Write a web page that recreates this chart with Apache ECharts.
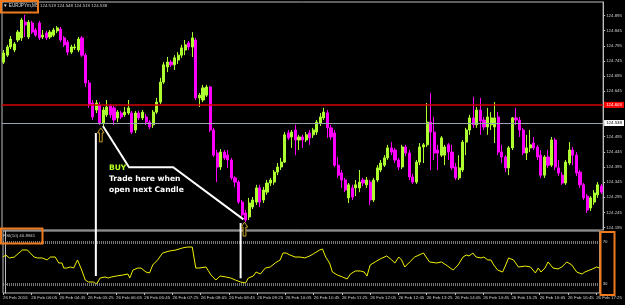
<!DOCTYPE html>
<html><head><meta charset="utf-8">
<script src="https://cdn.jsdelivr.net/npm/echarts@6/dist/echarts.min.js"></script>
<style>html,body{margin:0;padding:0;background:#000}#c{width:625px;height:305px}</style>
</head><body><div id="c"></div>
<script>
const symbolTitle = '\u25BC EURJPYm,M5';
const headerOHLC = '124.519 124.548 124.519 124.538';
const rsiTitle = 'RSI(10) 40.8941';
const startMinutes = 3 * 60 + 25;
const barMinutes = 5;
const timeLabels = ['26 Feb 2016','26 Feb 04:05','26 Feb 04:45','26 Feb 05:25','26 Feb 06:05','26 Feb 06:45','26 Feb 07:25','26 Feb 08:05','26 Feb 08:45','26 Feb 09:25','26 Feb 10:05','26 Feb 10:45','26 Feb 11:25','26 Feb 12:05','26 Feb 12:45','26 Feb 13:25','26 Feb 14:05','26 Feb 14:45','26 Feb 15:25','26 Feb 16:05','26 Feb 16:45','26 Feb 17:25'];
const barsPerTimeLabel = 8;
const priceTicks = [124.895,124.845,124.795,124.745,124.695,124.645,124.595,124.545,124.495,124.445,124.395,124.345,124.295,124.245,124.195];
const rsiTicks = [70, 30];
const rsiLevels = [70, 30];
const redLevel = 124.603;
const bidLevel = 124.538;

// [open, close, low, high]
const candles = [
[124.741,124.771,124.735,124.781],[124.764,124.791,124.758,124.798],[124.791,124.817,124.784,124.827],[124.781,124.801,124.774,124.807],
[124.814,124.840,124.807,124.847],[124.821,124.880,124.811,124.887],[124.873,124.864,124.824,124.897],[124.824,124.873,124.817,124.880],
[124.870,124.840,124.834,124.877],[124.847,124.830,124.824,124.854],[124.870,124.821,124.814,124.877],[124.824,124.830,124.817,124.847],
[124.837,124.821,124.814,124.844],[124.824,124.840,124.817,124.847],[124.830,124.847,124.824,124.854],[124.844,124.854,124.837,124.860],
[124.850,124.814,124.807,124.857],[124.821,124.798,124.791,124.827],[124.807,124.774,124.764,124.814],[124.774,124.791,124.768,124.798],
[124.788,124.791,124.781,124.801],[124.781,124.817,124.774,124.824],[124.821,124.764,124.758,124.827],[124.764,124.672,124.659,124.771],
[124.672,124.600,124.590,124.682],[124.606,124.560,124.550,124.616],[124.583,124.606,124.573,124.616],[124.600,124.540,124.534,124.609],
[124.540,124.583,124.530,124.593],[124.567,124.593,124.560,124.616],[124.596,124.567,124.557,124.603],[124.590,124.550,124.534,124.596],
[124.557,124.576,124.543,124.583],[124.573,124.560,124.553,124.580],[124.567,124.576,124.560,124.593],[124.573,124.590,124.567,124.616],
[124.573,124.510,124.504,124.580],[124.517,124.573,124.507,124.580],[124.573,124.557,124.550,124.580],[124.557,124.576,124.550,124.583],
[124.560,124.543,124.534,124.570],[124.543,124.527,124.520,124.550],[124.534,124.576,124.524,124.583],[124.576,124.609,124.570,124.623],
[124.609,124.675,124.603,124.689],[124.675,124.732,124.669,124.741],[124.725,124.741,124.708,124.758],[124.741,124.732,124.725,124.748],
[124.732,124.755,124.715,124.764],[124.748,124.764,124.735,124.774],[124.764,124.788,124.755,124.798],[124.781,124.798,124.764,124.814],
[124.804,124.791,124.781,124.811],[124.791,124.821,124.758,124.840],[124.814,124.623,124.616,124.821],[124.623,124.632,124.593,124.639],
[124.616,124.656,124.609,124.666],[124.632,124.659,124.626,124.666],[124.659,124.517,124.510,124.662],[124.517,124.434,124.428,124.524],
[124.441,124.395,124.345,124.451],[124.395,124.444,124.385,124.454],[124.444,124.425,124.418,124.451],[124.434,124.418,124.392,124.451],
[124.418,124.359,124.352,124.425],[124.359,124.345,124.329,124.365],[124.345,124.279,124.273,124.352],[124.279,124.237,124.230,124.286],
[124.243,124.220,124.213,124.253],[124.230,124.276,124.220,124.293],[124.263,124.286,124.256,124.296],[124.279,124.326,124.270,124.336],
[124.326,124.279,124.263,124.336],[124.286,124.319,124.276,124.329],[124.312,124.342,124.303,124.352],[124.342,124.352,124.332,124.359],
[124.345,124.378,124.336,124.385],[124.378,124.395,124.368,124.408],[124.395,124.411,124.385,124.425],[124.411,124.501,124.408,124.510],
[124.507,124.491,124.484,124.517],[124.494,124.510,124.458,124.517],[124.517,124.484,124.434,124.534],[124.484,124.494,124.451,124.501],
[124.494,124.484,124.458,124.501],[124.484,124.501,124.477,124.510],[124.507,124.491,124.468,124.517],[124.501,124.517,124.491,124.524],
[124.510,124.543,124.501,124.550],[124.540,124.560,124.530,124.573],[124.557,124.576,124.550,124.590],[124.573,124.524,124.491,124.583],
[124.524,124.494,124.484,124.534],[124.507,124.401,124.395,124.517],[124.401,124.368,124.359,124.428],[124.375,124.352,124.326,124.385],
[124.352,124.319,124.312,124.359],[124.293,124.336,124.276,124.342],[124.326,124.296,124.286,124.336],[124.326,124.336,124.299,124.352],
[124.326,124.345,124.312,124.385],[124.352,124.342,124.332,124.359],[124.336,124.352,124.326,124.362],[124.345,124.286,124.270,124.352],
[124.286,124.352,124.279,124.359],[124.352,124.392,124.345,124.401],[124.385,124.408,124.378,124.418],[124.401,124.425,124.395,124.434],
[124.425,124.458,124.418,124.468],[124.458,124.444,124.434,124.477],[124.451,124.418,124.408,124.458],[124.418,124.395,124.385,124.425],
[124.395,124.461,124.388,124.468],[124.461,124.441,124.431,124.468],[124.441,124.362,124.352,124.451],[124.362,124.345,124.339,124.372],
[124.345,124.411,124.339,124.418],[124.411,124.461,124.401,124.474],[124.461,124.468,124.408,124.474],[124.468,124.543,124.461,124.606],
[124.543,124.510,124.385,124.639],[124.510,124.441,124.418,124.560],[124.451,124.441,124.385,124.468],[124.434,124.491,124.428,124.497],
[124.434,124.461,124.401,124.468],[124.468,124.444,124.418,124.474],[124.444,124.392,124.385,124.468],[124.395,124.359,124.352,124.408],
[124.359,124.392,124.352,124.434],[124.385,124.477,124.378,124.484],[124.477,124.517,124.434,124.524],[124.517,124.557,124.501,124.567],
[124.557,124.534,124.524,124.626],[124.534,124.583,124.524,124.593],[124.583,124.547,124.501,124.623],[124.550,124.527,124.517,124.560],
[124.527,124.560,124.501,124.590],[124.534,124.557,124.517,124.576],[124.527,124.557,124.474,124.609],[124.560,124.444,124.434,124.576],
[124.444,124.428,124.408,124.468],[124.428,124.392,124.378,124.434],[124.392,124.458,124.368,124.464],[124.458,124.557,124.451,124.560],
[124.557,124.550,124.534,124.590],[124.550,124.517,124.494,124.560],[124.517,124.441,124.434,124.524],[124.441,124.458,124.418,124.501],
[124.458,124.468,124.444,124.517],[124.474,124.458,124.451,124.494],[124.461,124.428,124.418,124.468],[124.434,124.368,124.359,124.451],
[124.368,124.428,124.359,124.434],[124.428,124.401,124.392,124.451],[124.401,124.484,124.395,124.494],[124.484,124.395,124.385,124.491],
[124.392,124.375,124.365,124.418],[124.368,124.342,124.336,124.378],[124.342,124.411,124.336,124.418],[124.408,124.451,124.401,124.477],
[124.451,124.434,124.401,124.461],[124.434,124.375,124.365,124.444],[124.378,124.336,124.326,124.385],[124.336,124.293,124.286,124.342],
[124.299,124.253,124.243,124.306],[124.260,124.293,124.250,124.299],[124.279,124.309,124.270,124.319],[124.303,124.336,124.293,124.345],
[124.332,124.312,124.306,124.339]
];

// [bar position, RSI value]
const rsiPoints = [
[-0.5,55.7],[0.3,57.6],[1.3,54.8],[2.7,55.7],[5.0,62.4],[6.4,62.4],[8.3,55.7],[9.2,54.8],[10.6,54.8],[12.0,52.9],
[12.9,55.7],[14.3,55.7],[15.3,50.0],[16.2,50.0],[16.7,45.2],[17.6,45.2],[18.6,46.2],[19.5,45.2],[20.6,52.9],[21.8,43.3],
[22.8,33.8],[23.7,31.9],[25.1,31.9],[26.0,30.0],[27.0,35.7],[28.4,36.7],[29.3,35.7],[30.2,36.7],[31.6,37.6],[33.5,38.6],
[34.9,39.5],[35.4,35.7],[36.3,43.3],[37.7,45.2],[38.6,45.2],[40.0,41.4],[41.0,40.5],[41.9,48.1],[43.3,52.9],[44.7,59.5],
[46.6,61.4],[48.5,62.4],[50.3,64.3],[51.7,65.2],[53.1,65.2],[54.1,45.2],[55.0,45.2],[57.0,46.2],[58.4,38.6],[59.8,33.8],
[61.0,37.6],[62.6,36.7],[64.0,35.7],[65.3,33.8],[66.8,31.9],[68.2,31.0],[69.0,35.7],[70.4,37.6],[71.2,41.4],[72.4,39.5],
[73.8,45.2],[75.2,46.2],[76.6,50.0],[78.0,52.9],[78.8,59.5],[79.7,59.5],[80.8,57.6],[82.2,55.7],[83.6,55.7],[85.0,54.8],
[86.4,56.7],[87.8,59.5],[89.2,62.4],[90.0,63.3],[90.9,55.7],[92.0,50.0],[92.8,41.4],[94.2,38.6],[95.6,36.7],[97.0,34.8],
[97.9,39.5],[99.3,42.4],[100.7,42.4],[101.8,41.4],[102.6,37.6],[103.5,48.1],[104.9,51.0],[106.3,53.8],[108.2,56.7],[109.6,52.9],
[110.5,50.0],[111.6,55.7],[112.4,52.9],[113.3,46.2],[114.7,51.0],[116.1,55.7],[116.6,54.8],[118.6,59.5],[120.3,51.0],[122.3,50.0],
[123.7,51.0],[125.0,48.1],[127.0,43.3],[128.4,48.1],[129.8,55.7],[130.7,57.6],[131.5,56.7],[132.6,59.5],[133.5,55.7],[134.9,54.8],
[135.7,55.7],[136.8,52.9],[137.7,52.9],[138.5,48.1],[139.6,43.3],[141.0,41.4],[141.9,48.1],[142.7,54.8],[144.1,52.9],[145.5,46.2],
[147.5,47.1],[148.9,46.2],[150.3,40.5],[151.1,45.2],[151.9,41.4],[153.0,45.2],[153.9,51.0],[155.3,45.2],[156.7,44.3],[157.8,46.2],
[159.2,51.0],[160.6,48.1],[162.0,41.4],[163.5,39.5],[164.3,41.4],[165.7,43.3],[166.5,44.3],[167.6,46.2],[168.5,45.2]
];

// annotation anchors in data units
const signalArrows = [[27.2, 124.524], [67.9, 124.213]];
const signalLines = [[25.8, 124.507, 37.6], [66.8, 124.210, 35.4]];
const pointerPath = [[27.8, 124.530], [35.2, 124.394], [47.7, 124.394], [67.6, 124.222]];
const noteAnchor = [29.5, 124.404];
const noteLines = ['BUY', 'Trade here when', 'open next Candle'];

const categories = candles.map((_, i) => {
  const m = startMinutes + i * barMinutes;
  const h = Math.floor(m / 60), mm = m % 60;
  return '26 Feb ' + String(h).padStart(2, '0') + ':' + String(mm).padStart(2, '0');
});
const timeTickValues = timeLabels.map((_, k) => k * barsPerTimeLabel - 0.5);

const chart = echarts.init(document.getElementById('c'), null, {renderer: 'canvas'});
const axisTxt = {color: '#cfcfcf', fontSize: 4.4, fontFamily: 'Liberation Sans'};
const option = {
  backgroundColor: '#000',
  animation: false,
  grid: [
    {left: 2, top: 2, right: 20, height: 228, show: true, borderColor: '#bdbdbd', borderWidth: 1, backgroundColor: '#000'},
    {left: 2, top: 231, right: 20, height: 62, show: true, borderColor: '#bdbdbd', borderWidth: 1, backgroundColor: '#000'}
  ],
  xAxis: [
    {type: 'category', gridIndex: 0, data: categories, boundaryGap: true,
     axisLine: {show: false}, axisTick: {show: false}, axisLabel: {show: false}, splitLine: {show: false}},
    {type: 'value', gridIndex: 1, min: -0.5, max: candles.length - 0.5,
     axisLine: {show: false}, splitLine: {show: false},
     axisTick: {show: true, length: 2, customValues: timeTickValues, lineStyle: {color: '#bdbdbd'}},
     axisLabel: Object.assign({customValues: timeTickValues, align: 'left', margin: 3, hideOverlap: false,
       formatter: v => timeLabels[Math.round((v + 0.5) / barsPerTimeLabel)]}, axisTxt)}
  ],
  yAxis: [
    {type: 'value', gridIndex: 0, position: 'right', min: 124.187, max: 124.9394, scale: true,
     axisLine: {show: true, lineStyle: {color: '#bdbdbd'}}, splitLine: {show: false},
     axisTick: {show: true, length: 2, customValues: priceTicks, lineStyle: {color: '#bdbdbd'}},
     axisLabel: Object.assign({customValues: priceTicks, margin: 3, formatter: v => v.toFixed(3)}, axisTxt)},
    {type: 'value', gridIndex: 1, position: 'right', min: 21.43, max: 80.48,
     axisLine: {show: true, lineStyle: {color: '#bdbdbd'}}, splitLine: {show: false},
     axisTick: {show: true, length: 2, customValues: rsiTicks, lineStyle: {color: '#bdbdbd'}},
     axisLabel: Object.assign({customValues: rsiTicks, margin: 3}, axisTxt)}
  ],
  series: [
    {type: 'candlestick', xAxisIndex: 0, yAxisIndex: 0, data: candles, barWidth: 2.6,
     itemStyle: {color: '#adff2f', color0: '#ff00ff', borderColor: '#adff2f', borderColor0: '#ff00ff', borderWidth: 1},
     markLine: {symbol: 'none', silent: true, animation: false, data: [
       {yAxis: redLevel, lineStyle: {color: '#d40000', width: 1.6, type: 'solid', opacity: 1},
        label: {show: true, position: 'end', distance: 1, formatter: redLevel.toFixed(3), backgroundColor: '#ff0000', color: '#fff', fontSize: 4.4, padding: [1, 2]}},
       {yAxis: bidLevel, lineStyle: {color: '#9aa4b4', width: 1, type: 'solid', opacity: 1},
        label: {show: true, position: 'end', distance: 1, formatter: bidLevel.toFixed(3), backgroundColor: '#ffffff', color: '#000', fontSize: 4.4, padding: [1, 2]}}
     ]}},
    {type: 'line', xAxisIndex: 1, yAxisIndex: 1, data: rsiPoints, showSymbol: false, symbol: 'none',
     lineStyle: {color: '#f2f200', width: 1}, z: 3,
     markLine: {symbol: 'none', silent: true, animation: false, label: {show: false},
       lineStyle: {color: '#a0a0a0', width: 3, type: [1, 1], opacity: 0.75},
       data: rsiLevels.map(v => ({yAxis: v}))}}
  ]
};
chart.setOption(option);

const X = b => chart.convertToPixel({xAxisIndex: 1}, b);
const Y = p => chart.convertToPixel({yAxisIndex: 0}, p);
const R = v => chart.convertToPixel({yAxisIndex: 1}, v);
const g = [];
signalLines.forEach(s => g.push({type: 'line', z: 100, shape: {x1: X(s[0]), y1: Y(s[1]), x2: X(s[0]), y2: R(s[2])}, style: {stroke: '#ffffff', lineWidth: 2}}));
g.push({type: 'polyline', z: 100, shape: {points: pointerPath.map(p => [X(p[0]), Y(p[1])])}, style: {stroke: '#ffffff', lineWidth: 2, fill: null}});
signalArrows.forEach(a => {
  const x = X(a[0]), y = Y(a[1]);
  const pts = [[0,0],[3.2,5],[1.4,5],[1.4,14],[-1.4,14],[-1.4,5],[-3.2,5]].map(q => [x + q[0], y + q[1]]);
  g.push({type: 'polygon', z: 101, shape: {points: pts}, style: {stroke: '#c9a227', fill: '#000', lineWidth: 1}});
});
noteLines.forEach((t, k) => g.push({type: 'text', z: 102, x: X(noteAnchor[0]), y: Y(noteAnchor[1]) + k * 10.8,
  style: {text: t, fill: k === 0 ? '#b4ff1e' : '#ffffff', font: 'bold 7.6px "DejaVu Sans"', textVerticalAlign: 'top'}}));
g.push({type: 'text', z: 102, x: 3, y: 6, style: {text: symbolTitle, fill: '#e0e0e0', font: '4.6px "Liberation Sans"', textVerticalAlign: 'middle'}});
g.push({type: 'text', z: 102, x: 40, y: 5.5, style: {text: headerOHLC, fill: '#d0d0d0', font: '4.4px "Liberation Sans"', textVerticalAlign: 'middle'}});
g.push({type: 'text', z: 102, x: 3, y: 236, style: {text: rsiTitle, fill: '#d0d0d0', font: '4.4px "Liberation Sans"', textVerticalAlign: 'middle'}});
[[1, 1, 37, 11.5], [1, 228.5, 41.5, 15], [600.5, 232, 14, 63]].forEach(r =>
  g.push({type: 'rect', z: 103, shape: {x: r[0], y: r[1], width: r[2], height: r[3]}, style: {stroke: '#f07a1e', lineWidth: 2, fill: null}}));
chart.setOption({graphic: g});
</script></body></html>
